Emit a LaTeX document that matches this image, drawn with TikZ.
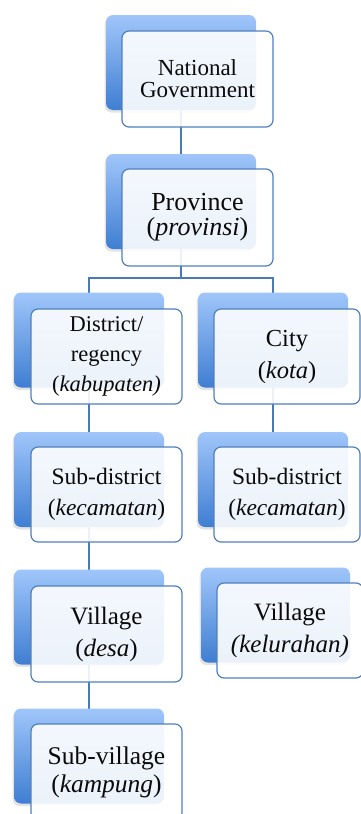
\documentclass[tikz,border=0pt]{standalone}
\usepackage{fontspec}
\setmainfont{Liberation Serif}
\usetikzlibrary{shadows}
\definecolor{backtop}{HTML}{A0C6FA}
\definecolor{backbot}{HTML}{3F7ED2}
\definecolor{edgeblue}{HTML}{5080BC}
\definecolor{linkblue}{HTML}{4A7AB5}
\definecolor{txt}{HTML}{0A0A0A}
\tikzset{
  backbox/.style={rectangle, rounded corners=7pt, minimum width=150pt, minimum height=95pt,
    top color=backtop, bottom color=backbot, draw=none,
    drop shadow={opacity=0.22, shadow xshift=-1.5pt, shadow yshift=-2.5pt}},
  frontbox/.style={rectangle, rounded corners=7pt, minimum width=151pt, minimum height=96pt,
    draw=edgeblue, line width=1.2pt, fill=white, fill opacity=0.9, text opacity=1,
    align=center, text=txt, inner sep=0pt},
  link/.style={draw=linkblue, line width=1.3pt},
}
\begin{document}
\begin{tikzpicture}[x=1pt, y=-1pt]
\useasboundingbox (0,0) rectangle (361,814);
\coordinate (ngc) at (181,62.5);
\coordinate (provc) at (181,201.5);
\coordinate (distc) at (89,340);
\coordinate (cityc) at (273,340);
\coordinate (subdlc) at (89,479.5);
\coordinate (subdrc) at (273,479.5);
\coordinate (villlc) at (89,617);
\coordinate (villrc) at (275.5,615);
\coordinate (subvc) at (89,756);
\coordinate (bus) at (181,278);
% connectors
\draw[link] (ngc) -- (provc);
\draw[link] (provc) -- (bus);
\draw[link] (bus) -| (distc);
\draw[link] (bus) -| (cityc);
\draw[link] (distc) -- (subdlc);
\draw[link] (subdlc) -- (villlc);
\draw[link] (villlc) -- (subvc);
\draw[link] (cityc) -- (subdrc);
% back boxes
\node[backbox] (ngb) at (ngc) {};
\node[backbox] (provb) at (provc) {};
\node[backbox] (distb) at (distc) {};
\node[backbox] (cityb) at (cityc) {};
\node[backbox] (subdlb) at (subdlc) {};
\node[backbox] (subdrb) at (subdrc) {};
\node[backbox] (villlb) at (villlc) {};
\node[backbox, minimum width=149pt] (villrb) at (villrc) {};
\node[backbox] (subvb) at (subvc) {};
% front boxes
\node[frontbox, font=\fontsize{23pt}{22pt}\selectfont] (ng) at (197.5,79) {National\\Government};
\node[frontbox, minimum height=97pt, font=\fontsize{26pt}{25pt}\selectfont] (prov) at (197.5,217.5) {Province\\(\textit{provinsi})};
\node[frontbox, minimum height=95pt, font=\fontsize{22.5pt}{30pt}\selectfont] (dist) at (106.5,356.5) {District/\\regency\\(\textit{kabupaten)}};
\node[frontbox, minimum width=146pt, minimum height=95pt, font=\fontsize{24.5pt}{32pt}\selectfont] (city) at (287,356.5) {City\\(\textit{kota})};
\node[frontbox, minimum height=95pt, font=\fontsize{23.5pt}{31pt}\selectfont] (subdl) at (106.5,494.5) {Sub-district\\(\textit{kecamatan})};
\node[frontbox, minimum width=146pt, minimum height=95pt, font=\fontsize{23.5pt}{31pt}\selectfont] (subdr) at (287,494.5) {Sub-district\\(\textit{kecamatan})};
\node[frontbox, font=\fontsize{25pt}{32pt}\selectfont] (villl) at (106.5,634) {Village\\(\textit{desa})};
\node[frontbox, minimum width=146pt, minimum height=95pt, font=\fontsize{25pt}{32pt}\selectfont] (villr) at (290,630.5) {Village\\\textit{(kelurahan)}};
\node[frontbox, font=\fontsize{25.5pt}{28pt}\selectfont] (subv) at (106.5,772) {\raisebox{5pt}{Sub-village}\\\raisebox{5pt}{(\textit{kampung})}};
\end{tikzpicture}
\end{document}
